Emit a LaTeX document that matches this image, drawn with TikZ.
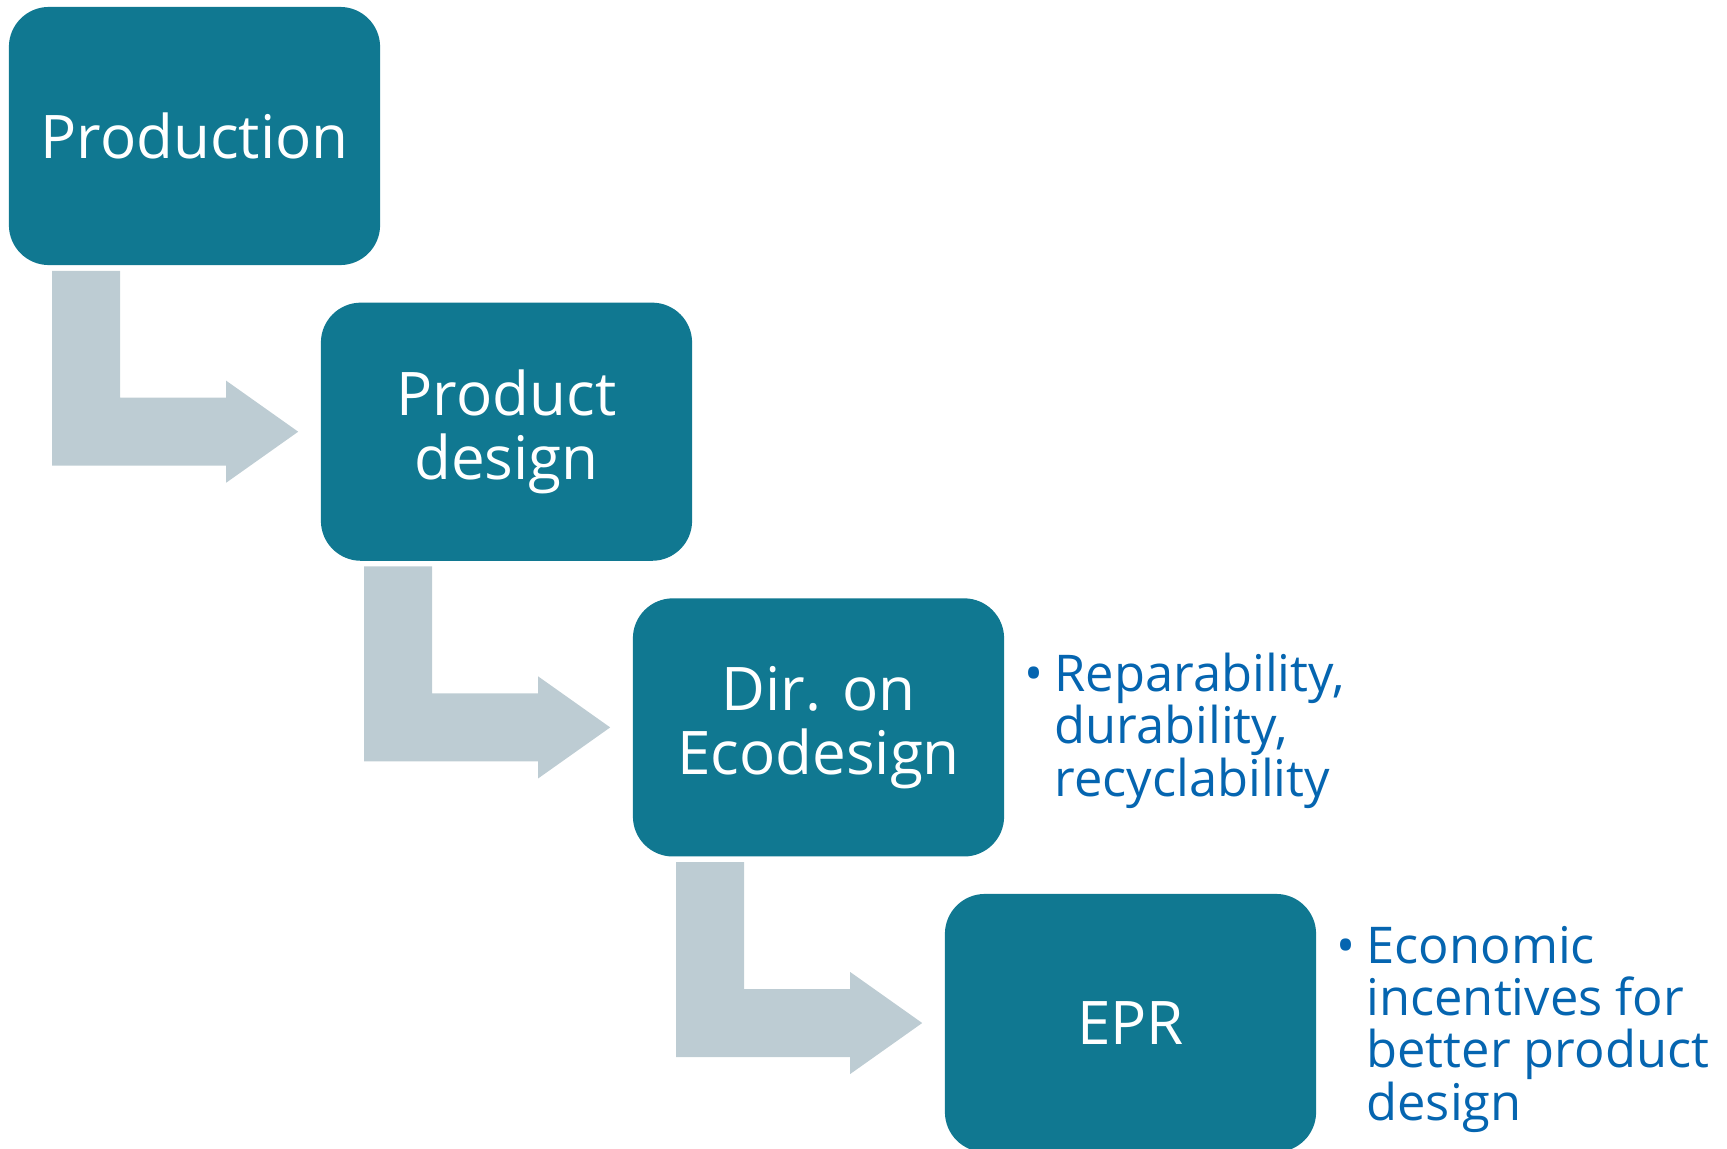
\documentclass[tikz,border=0pt]{standalone}
\usepackage{fontspec}
\setmainfont{Open Sans}
\usetikzlibrary{calc}
\usetikzlibrary{positioning}

\definecolor{stageteal}{RGB}{16,120,145}
\definecolor{flowgray}{RGB}{189,204,211}
\definecolor{noteblue}{RGB}{5,101,176}
\newcommand{\bulletmark}{\makebox[0.3cm][l]{\textbullet}}

\tikzset{
 stage/.style={fill=stageteal, text=white, rounded corners=0.4cm, minimum width=3.71cm, minimum height=2.58cm, inner sep=0, align=center, font=\fontsize{17.1}{18.2}\selectfont},
 flow/.style={fill=flowgray},
 note/.style={text=noteblue, inner sep=0, font=\fontsize{14.4}{14.9}\selectfont}
}

\begin{document}
\begin{tikzpicture} [x=0.01cm, y=-0.01cm]
\useasboundingbox (0,0) rectangle (1727,1148);
\node[stage] (prod) at (194.5,136) {Production};
\node[stage] (pdes) at (506.5,431.7) {Product\\design};
\node[stage] (eco) at (818.5,727.4) {Dir. on\\Ecodesign};
\node[stage] (epr) at (1130.5,1023) {EPR};
\foreach \a/\b in {prod/pdes, pdes/eco, eco/epr} {
 \fill[flow] ($(\a.south west)+(44,5)$) --++(68,0) |- ($(\b.west)+(-94,-34)$) --++(0,-17)
   -- ($(\b.west)+(-22,0)$) --++(-72,51) --++(0,-17) -- ($(\a.south west |- \b.west)+(44,34)$) -- cycle;
}
\node[note, anchor=base west] (econote) at ($(eco.east)+(19,-36)$) {\bulletmark\vtop{\hbox{Reparability,}\hbox{durability,}\hbox{recyclability}}};
\node[note, anchor=base west] (eprnote) at ($(epr.east)+(19,-60)$) {\bulletmark\vtop{\hbox{Economic}\hbox{incentives for}\hbox{better product}\hbox{design}}};
\end{tikzpicture}
\end{document}
